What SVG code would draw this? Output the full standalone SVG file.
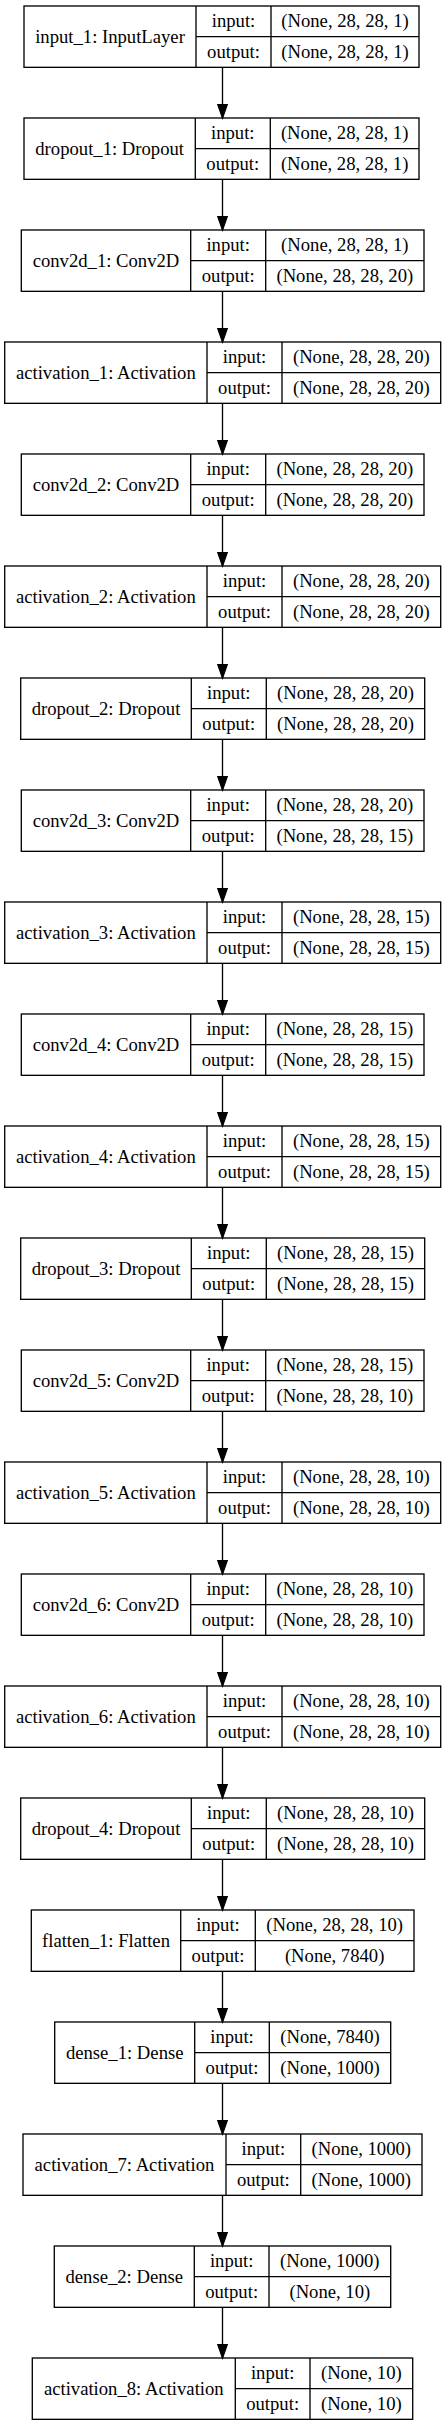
<svg xmlns="http://www.w3.org/2000/svg" width="445" height="2427" viewBox="0 0 445 2427">
<style>
rect.n,path.b{fill:none;stroke:#000;stroke-width:1.33}
text{font-family:"Liberation Serif","Times New Roman",serif;font-size:18.67px;text-anchor:middle;fill:#000}
.e{fill:none;stroke:#000;stroke-width:1.33;marker-end:url(#ah)}
</style>
<defs>
<marker id="ah" markerUnits="userSpaceOnUse" markerWidth="16" markerHeight="12" refX="13.33" refY="5.67" orient="auto" viewBox="-1 -1 16 12">
<path d="M0,1L13.33,5.67L0,10.33z" fill="#000" stroke="#000" stroke-width="1.33"/>
</marker>
</defs>
<rect x="0" y="0" width="445" height="2427" style="fill:#fff;stroke:none"/>
<g id="connectors">
<path class="e" d="M222.5,67.33V118"/>
<path class="e" d="M222.5,179.33V230"/>
<path class="e" d="M222.5,291.33V342"/>
<path class="e" d="M222.5,403.33V454"/>
<path class="e" d="M222.5,515.33V566"/>
<path class="e" d="M222.5,627.33V678"/>
<path class="e" d="M222.5,739.33V790"/>
<path class="e" d="M222.5,851.33V902"/>
<path class="e" d="M222.5,963.33V1014"/>
<path class="e" d="M222.5,1075.33V1126"/>
<path class="e" d="M222.5,1187.33V1238"/>
<path class="e" d="M222.5,1299.33V1350"/>
<path class="e" d="M222.5,1411.33V1462"/>
<path class="e" d="M222.5,1523.33V1574"/>
<path class="e" d="M222.5,1635.33V1686"/>
<path class="e" d="M222.5,1747.33V1798"/>
<path class="e" d="M222.5,1859.33V1910"/>
<path class="e" d="M222.5,1971.33V2022"/>
<path class="e" d="M222.5,2083.33V2134"/>
<path class="e" d="M222.5,2195.33V2246"/>
<path class="e" d="M222.5,2307.33V2358"/>
</g>
<g id="n0" transform="translate(0,6)">
<rect class="n" x="24" y="0" width="395" height="61.33"/>
<path class="b" d="M196,0V61.33M271,0V61.33M196,30.67H419"/>
<text x="110" y="36.5">input_1: InputLayer</text>
<text x="233.5" y="21">input:</text><text x="233.5" y="52">output:</text>
<text x="345" y="21">(None, 28, 28, 1)</text><text x="345" y="52">(None, 28, 28, 1)</text>
</g>
<g id="n1" transform="translate(0,118)">
<rect class="n" x="24" y="0" width="395" height="61.33"/>
<path class="b" d="M195.3,0V61.33M270.3,0V61.33M195.3,30.67H419"/>
<text x="109.65" y="36.5">dropout_1: Dropout</text>
<text x="232.8" y="21">input:</text><text x="232.8" y="52">output:</text>
<text x="344.65" y="21">(None, 28, 28, 1)</text><text x="344.65" y="52">(None, 28, 28, 1)</text>
</g>
<g id="n2" transform="translate(0,230)">
<rect class="n" x="21.3" y="0" width="402.7" height="61.33"/>
<path class="b" d="M190.7,0V61.33M265.7,0V61.33M190.7,30.67H424"/>
<text x="106" y="36.5">conv2d_1: Conv2D</text>
<text x="228.2" y="21">input:</text><text x="228.2" y="52">output:</text>
<text x="344.85" y="21">(None, 28, 28, 1)</text><text x="344.85" y="52">(None, 28, 28, 20)</text>
</g>
<g id="n3" transform="translate(0,342)">
<rect class="n" x="4.7" y="0" width="436" height="61.33"/>
<path class="b" d="M207,0V61.33M282,0V61.33M207,30.67H440.7"/>
<text x="105.85" y="36.5">activation_1: Activation</text>
<text x="244.5" y="21">input:</text><text x="244.5" y="52">output:</text>
<text x="361.35" y="21">(None, 28, 28, 20)</text><text x="361.35" y="52">(None, 28, 28, 20)</text>
</g>
<g id="n4" transform="translate(0,454)">
<rect class="n" x="21.3" y="0" width="402.7" height="61.33"/>
<path class="b" d="M190.7,0V61.33M265.7,0V61.33M190.7,30.67H424"/>
<text x="106" y="36.5">conv2d_2: Conv2D</text>
<text x="228.2" y="21">input:</text><text x="228.2" y="52">output:</text>
<text x="344.85" y="21">(None, 28, 28, 20)</text><text x="344.85" y="52">(None, 28, 28, 20)</text>
</g>
<g id="n5" transform="translate(0,566)">
<rect class="n" x="4.7" y="0" width="436" height="61.33"/>
<path class="b" d="M207,0V61.33M282,0V61.33M207,30.67H440.7"/>
<text x="105.85" y="36.5">activation_2: Activation</text>
<text x="244.5" y="21">input:</text><text x="244.5" y="52">output:</text>
<text x="361.35" y="21">(None, 28, 28, 20)</text><text x="361.35" y="52">(None, 28, 28, 20)</text>
</g>
<g id="n6" transform="translate(0,678)">
<rect class="n" x="20.7" y="0" width="404" height="61.33"/>
<path class="b" d="M191.3,0V61.33M266.3,0V61.33M191.3,30.67H424.7"/>
<text x="106" y="36.5">dropout_2: Dropout</text>
<text x="228.8" y="21">input:</text><text x="228.8" y="52">output:</text>
<text x="345.5" y="21">(None, 28, 28, 20)</text><text x="345.5" y="52">(None, 28, 28, 20)</text>
</g>
<g id="n7" transform="translate(0,790)">
<rect class="n" x="21.3" y="0" width="402.7" height="61.33"/>
<path class="b" d="M190.7,0V61.33M265.7,0V61.33M190.7,30.67H424"/>
<text x="106" y="36.5">conv2d_3: Conv2D</text>
<text x="228.2" y="21">input:</text><text x="228.2" y="52">output:</text>
<text x="344.85" y="21">(None, 28, 28, 20)</text><text x="344.85" y="52">(None, 28, 28, 15)</text>
</g>
<g id="n8" transform="translate(0,902)">
<rect class="n" x="4.7" y="0" width="436" height="61.33"/>
<path class="b" d="M207,0V61.33M282,0V61.33M207,30.67H440.7"/>
<text x="105.85" y="36.5">activation_3: Activation</text>
<text x="244.5" y="21">input:</text><text x="244.5" y="52">output:</text>
<text x="361.35" y="21">(None, 28, 28, 15)</text><text x="361.35" y="52">(None, 28, 28, 15)</text>
</g>
<g id="n9" transform="translate(0,1014)">
<rect class="n" x="21.3" y="0" width="402.7" height="61.33"/>
<path class="b" d="M190.7,0V61.33M265.7,0V61.33M190.7,30.67H424"/>
<text x="106" y="36.5">conv2d_4: Conv2D</text>
<text x="228.2" y="21">input:</text><text x="228.2" y="52">output:</text>
<text x="344.85" y="21">(None, 28, 28, 15)</text><text x="344.85" y="52">(None, 28, 28, 15)</text>
</g>
<g id="n10" transform="translate(0,1126)">
<rect class="n" x="4.7" y="0" width="436" height="61.33"/>
<path class="b" d="M207,0V61.33M282,0V61.33M207,30.67H440.7"/>
<text x="105.85" y="36.5">activation_4: Activation</text>
<text x="244.5" y="21">input:</text><text x="244.5" y="52">output:</text>
<text x="361.35" y="21">(None, 28, 28, 15)</text><text x="361.35" y="52">(None, 28, 28, 15)</text>
</g>
<g id="n11" transform="translate(0,1238)">
<rect class="n" x="20.7" y="0" width="404" height="61.33"/>
<path class="b" d="M191.3,0V61.33M266.3,0V61.33M191.3,30.67H424.7"/>
<text x="106" y="36.5">dropout_3: Dropout</text>
<text x="228.8" y="21">input:</text><text x="228.8" y="52">output:</text>
<text x="345.5" y="21">(None, 28, 28, 15)</text><text x="345.5" y="52">(None, 28, 28, 15)</text>
</g>
<g id="n12" transform="translate(0,1350)">
<rect class="n" x="21.3" y="0" width="402.7" height="61.33"/>
<path class="b" d="M190.7,0V61.33M265.7,0V61.33M190.7,30.67H424"/>
<text x="106" y="36.5">conv2d_5: Conv2D</text>
<text x="228.2" y="21">input:</text><text x="228.2" y="52">output:</text>
<text x="344.85" y="21">(None, 28, 28, 15)</text><text x="344.85" y="52">(None, 28, 28, 10)</text>
</g>
<g id="n13" transform="translate(0,1462)">
<rect class="n" x="4.7" y="0" width="436" height="61.33"/>
<path class="b" d="M207,0V61.33M282,0V61.33M207,30.67H440.7"/>
<text x="105.85" y="36.5">activation_5: Activation</text>
<text x="244.5" y="21">input:</text><text x="244.5" y="52">output:</text>
<text x="361.35" y="21">(None, 28, 28, 10)</text><text x="361.35" y="52">(None, 28, 28, 10)</text>
</g>
<g id="n14" transform="translate(0,1574)">
<rect class="n" x="21.3" y="0" width="402.7" height="61.33"/>
<path class="b" d="M190.7,0V61.33M265.7,0V61.33M190.7,30.67H424"/>
<text x="106" y="36.5">conv2d_6: Conv2D</text>
<text x="228.2" y="21">input:</text><text x="228.2" y="52">output:</text>
<text x="344.85" y="21">(None, 28, 28, 10)</text><text x="344.85" y="52">(None, 28, 28, 10)</text>
</g>
<g id="n15" transform="translate(0,1686)">
<rect class="n" x="4.7" y="0" width="436" height="61.33"/>
<path class="b" d="M207,0V61.33M282,0V61.33M207,30.67H440.7"/>
<text x="105.85" y="36.5">activation_6: Activation</text>
<text x="244.5" y="21">input:</text><text x="244.5" y="52">output:</text>
<text x="361.35" y="21">(None, 28, 28, 10)</text><text x="361.35" y="52">(None, 28, 28, 10)</text>
</g>
<g id="n16" transform="translate(0,1798)">
<rect class="n" x="20.7" y="0" width="404" height="61.33"/>
<path class="b" d="M191.3,0V61.33M266.3,0V61.33M191.3,30.67H424.7"/>
<text x="106" y="36.5">dropout_4: Dropout</text>
<text x="228.8" y="21">input:</text><text x="228.8" y="52">output:</text>
<text x="345.5" y="21">(None, 28, 28, 10)</text><text x="345.5" y="52">(None, 28, 28, 10)</text>
</g>
<g id="n17" transform="translate(0,1910)">
<rect class="n" x="31.3" y="0" width="382.7" height="61.33"/>
<path class="b" d="M180.7,0V61.33M255.3,0V61.33M180.7,30.67H414"/>
<text x="106" y="36.5">flatten_1: Flatten</text>
<text x="218" y="21">input:</text><text x="218" y="52">output:</text>
<text x="334.65" y="21">(None, 28, 28, 10)</text><text x="334.65" y="52">(None, 7840)</text>
</g>
<g id="n18" transform="translate(0,2022)">
<rect class="n" x="54.7" y="0" width="336" height="61.33"/>
<path class="b" d="M194.7,0V61.33M269.3,0V61.33M194.7,30.67H390.7"/>
<text x="124.7" y="36.5">dense_1: Dense</text>
<text x="232" y="21">input:</text><text x="232" y="52">output:</text>
<text x="330" y="21">(None, 7840)</text><text x="330" y="52">(None, 1000)</text>
</g>
<g id="n19" transform="translate(0,2134)">
<rect class="n" x="23" y="0" width="399" height="61.33"/>
<path class="b" d="M226,0V61.33M300.7,0V61.33M226,30.67H422"/>
<text x="124.5" y="36.5">activation_7: Activation</text>
<text x="263.35" y="21">input:</text><text x="263.35" y="52">output:</text>
<text x="361.35" y="21">(None, 1000)</text><text x="361.35" y="52">(None, 1000)</text>
</g>
<g id="n20" transform="translate(0,2246)">
<rect class="n" x="54.3" y="0" width="336.4" height="61.33"/>
<path class="b" d="M194.3,0V61.33M269,0V61.33M194.3,30.67H390.7"/>
<text x="124.3" y="36.5">dense_2: Dense</text>
<text x="231.65" y="21">input:</text><text x="231.65" y="52">output:</text>
<text x="329.85" y="21">(None, 1000)</text><text x="329.85" y="52">(None, 10)</text>
</g>
<g id="n21" transform="translate(0,2358)">
<rect class="n" x="32.3" y="0" width="380.4" height="61.33"/>
<path class="b" d="M235.3,0V61.33M310,0V61.33M235.3,30.67H412.7"/>
<text x="133.8" y="36.5">activation_8: Activation</text>
<text x="272.65" y="21">input:</text><text x="272.65" y="52">output:</text>
<text x="361.35" y="21">(None, 10)</text><text x="361.35" y="52">(None, 10)</text>
</g>
</svg>
